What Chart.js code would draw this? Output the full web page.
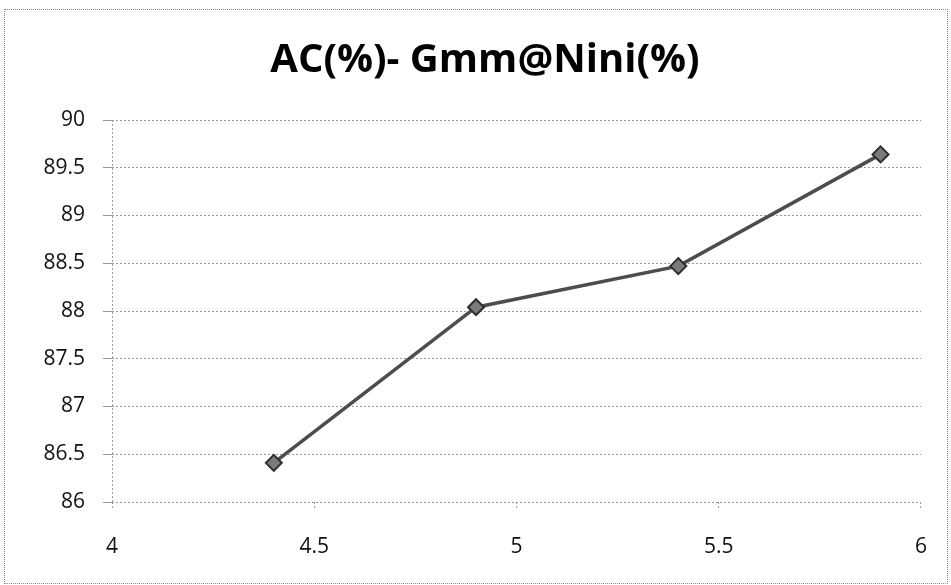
<!DOCTYPE html>
<html>
<head>
<meta charset="utf-8">
<script src="https://cdn.jsdelivr.net/npm/chart.js@4"></script>
<style>
  html, body { margin: 0; padding: 0; background: #fff; }
  #lienzo { position: absolute; left: 0; top: 0; width: 951px; height: 585px; }
  #marco {
    position: absolute; left: 4px; top: 9px;
    width: 942px; height: 573px;
    border: 1px dotted #888;
    pointer-events: none;
  }
</style>
</head>
<body>
<div id="lienzo"><canvas id="grafico"></canvas></div>
<div id="marco"></div>
<script>
// Datos del gráfico
const tituloGrafico = 'AC(%)- Gmm@Nini(%)';
const valoresX = [4.4, 4.9, 5.4, 5.9];
const valoresY = [86.41, 88.04, 88.47, 89.64];
const rangoX = [4, 6, 0.5];
const rangoY = [86, 90, 0.5];

// Quitar decimales sobrantes (4.0 -> 4)
function formatoTick(valor) {
    return String(Math.round(valor * 10) / 10);
}

document.addEventListener('DOMContentLoaded', function() {
    const ctx = document.getElementById('grafico').getContext('2d');
    const puntos = valoresX.map((x, i) => ({ x: x, y: valoresY[i] }));

    new Chart(ctx, {
        type: 'scatter',
        data: {
            datasets: [{
                data: puntos,
                showLine: true,
                borderColor: '#4d4d4d',
                borderWidth: 3.5,
                pointStyle: 'rectRot',
                pointRadius: 8,
                pointBackgroundColor: '#7a7a7a',
                pointBorderColor: '#2e2e2e',
                pointBorderWidth: 2
            }]
        },
        options: {
            responsive: true,
            maintainAspectRatio: false,
            animation: false,
            // padding izquierdo para centrar el título como en el original
            layout: { padding: { left: 37, right: 18, top: 0, bottom: 0 } },
            plugins: {
                legend: { display: false },
                tooltip: { enabled: false },
                title: {
                    display: true,
                    text: tituloGrafico,
                    color: '#000',
                    font: { family: 'Open Sans', size: 40, weight: 'bold' },
                    padding: { top: 37, bottom: 35 }
                }
            },
            scales: {
                x: {
                    type: 'linear',
                    min: rangoX[0], max: rangoX[1],
                    afterFit: function(escala) { escala.height = 83; },
                    ticks: {
                        stepSize: rangoX[2], color: '#111', padding: 24,
                        font: { family: 'Open Sans', size: 21 },
                        callback: formatoTick
                    },
                    grid: {
                        drawOnChartArea: true,
                        color: c => c.index === 0 ? '#9a9a9a' : 'rgba(0,0,0,0)',
                        tickColor: '#9a9a9a',
                        tickLength: 8,
                        tickBorderDash: [2, 2]
                    },
                    border: { display: false, dash: [2, 2] }
                },
                y: {
                    min: rangoY[0], max: rangoY[1],
                    afterFit: function(escala) { escala.width = 75; },
                    ticks: {
                        stepSize: rangoY[2], color: '#111', padding: 18,
                        font: { family: 'Open Sans', size: 21 },
                        callback: formatoTick
                    },
                    grid: { color: '#9a9a9a', tickLength: 9, lineWidth: 1 },
                    border: { display: false, dash: [2, 2] }
                }
            }
        }
    });
});
</script>
</body>
</html>
